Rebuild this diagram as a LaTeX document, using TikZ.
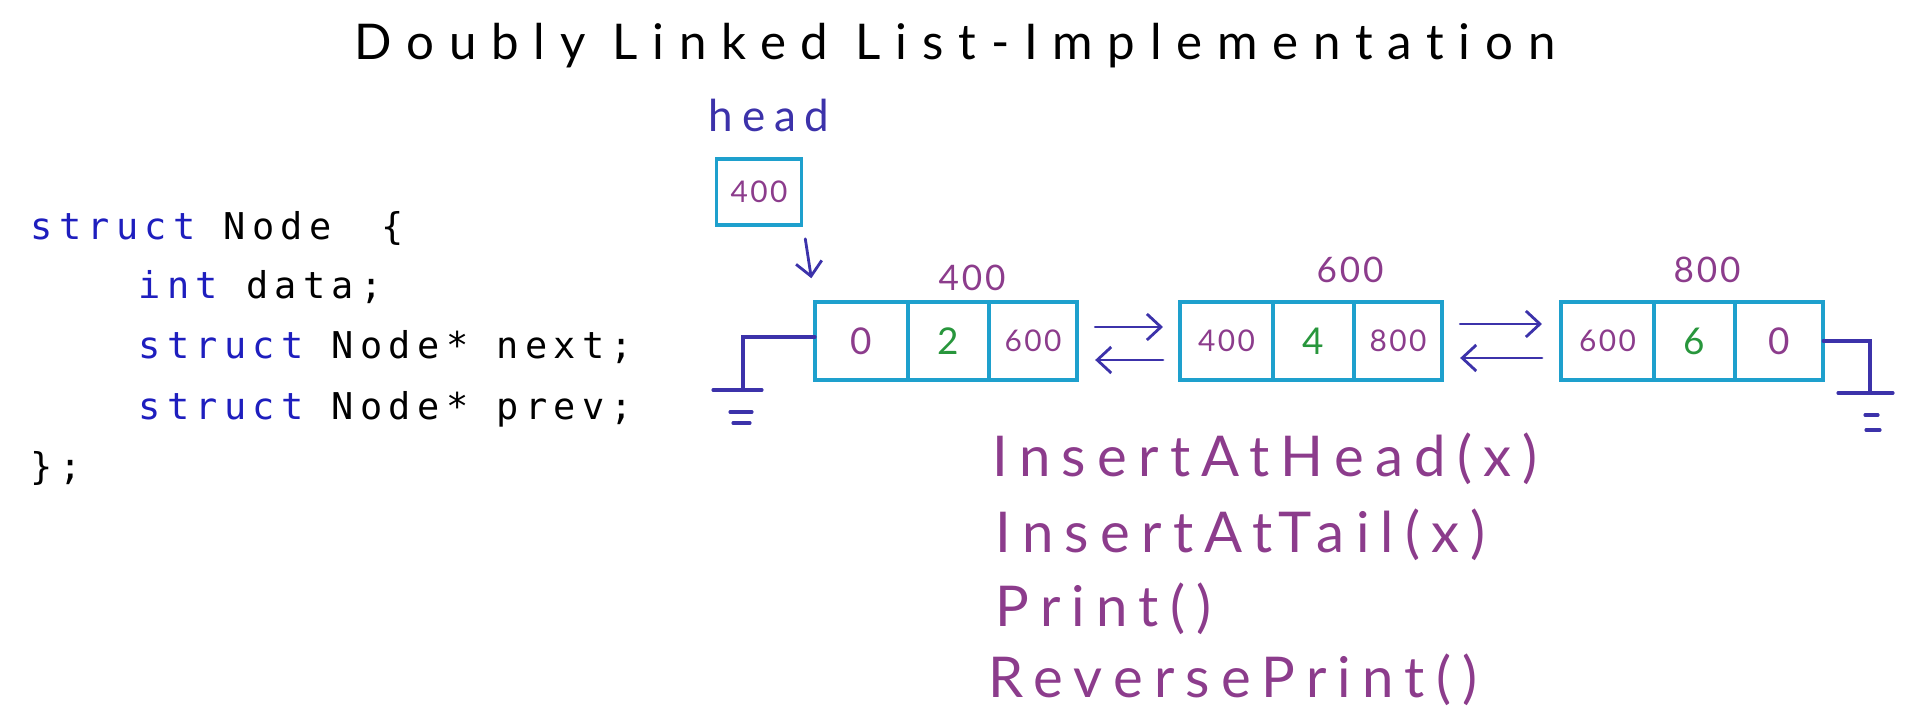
\documentclass[tikz,border=0pt]{standalone}
\usepackage{fontspec}
\usepackage{xcolor}
\usepackage{tikz}
\usetikzlibrary{arrows.meta,positioning,calc}

\newfontfamily\codefont[LetterSpace=17]{DejaVu Sans Mono}
\newfontfamily\handfont[LetterSpace=20,Ligatures=NoCommon]{Lato}
\newfontfamily\titlefont[LetterSpace=30,Ligatures=NoCommon]{Lato}
\newfontfamily\numfont[LetterSpace=8]{Lato}

\definecolor{boxc}{RGB}{30,160,205}
\definecolor{ink}{RGB}{60,50,170}
\definecolor{purp}{RGB}{140,60,140}
\definecolor{grn}{RGB}{40,150,60}
\definecolor{kwblue}{RGB}{30,30,190}
\newcommand{\keyw}[1]{\textcolor{kwblue}{#1}}

\begin{document}
\begin{tikzpicture}[
  x=0.01cm, y=-0.01cm,
  cell/.style={draw=boxc, line width=1.1pt, minimum height=0.78cm,
    inner sep=0pt, outer sep=0pt},
  num/.style={font=\numfont\fontsize{8.5pt}{8.5pt}\selectfont, text=purp},
  digit/.style={font=\numfont\fontsize{10.5pt}{10.5pt}\selectfont},
  addr/.style={font=\numfont\fontsize{10pt}{10pt}\selectfont, text=purp, anchor=base},
  code/.style={font=\codefont\fontsize{10.5pt}{10.5pt}\selectfont, anchor=base west, inner sep=0pt},
  method/.style={font=\handfont\fontsize{16pt}{16pt}\selectfont, text=purp,
    anchor=base west, inner sep=0pt},
  ptr/.style={draw=ink, line width=0.8pt, line cap=round,
    -{Straight Barb[length=0.14cm,width=0.26cm]}},
  wire/.style={draw=ink, line width=0.9pt, line cap=round},
]
\useasboundingbox (0,0) rectangle (1920,728);

% title
\node[font=\titlefont\fontsize{14pt}{14pt}\selectfont, anchor=base] (title) at (955,60)
  {Doubly Linked List-Implementation};

% struct definition
\node[code] (c1) at (30,240) {\keyw{struct} Node\hspace{1.36em}\{};
\node[code] (c2) at (138,299) {\keyw{int} data;};
\node[code] (c3) at (138,359) {\keyw{struct} Node* next;};
\node[code] (c4) at (138,420) {\keyw{struct} Node* prev;};
\node[code] (c5) at (30,480) {\};};

% head pointer
\node[font=\handfont\fontsize{12.5pt}{12.5pt}\selectfont, text=ink, anchor=base] (headlbl) at (769,132) {head};
\node[draw=boxc, line width=1.1pt, minimum width=0.85cm, minimum height=0.66cm,
  inner sep=0pt, num] (headbox) at (759,192) {400};

% list nodes
\node[cell, minimum width=0.93cm, anchor=west, digit, text=purp] (n1a) at (815,341) {0};
\node[cell, minimum width=0.81cm, right=0pt of n1a, digit, text=grn] (n1b) {2};
\node[cell, minimum width=0.88cm, right=0pt of n1b, num] (n1c) {600};

\node[cell, minimum width=0.93cm, anchor=west, num] (n2a) at (1180,341) {400};
\node[cell, minimum width=0.81cm, right=0pt of n2a, digit, text=grn] (n2b) {4};
\node[cell, minimum width=0.88cm, right=0pt of n2b, num] (n2c) {800};

\node[cell, minimum width=0.93cm, anchor=west, num] (n3a) at (1561,341) {600};
\node[cell, minimum width=0.81cm, right=0pt of n3a, digit, text=grn] (n3b) {6};
\node[cell, minimum width=0.88cm, right=0pt of n3b, digit, text=purp] (n3c) {0};

% addresses
\node[addr] (addr1) at (972,291) {400};
\node[addr] (addr2) at (1350,283) {600};
\node[addr] (addr3) at (1707,283) {800};

% links
\draw[ptr, shorten <=0.12cm, shorten >=0.24cm] (headbox.south east) -- (n1a.north west);
\draw[ptr, shorten <=0.18cm, shorten >=0.17cm] ([yshift=0.14cm]n1c.east) -- ([yshift=0.14cm]n2a.west);
\draw[ptr, shorten <=0.17cm, shorten >=0.18cm] ([yshift=-0.19cm]n2a.west) -- ([yshift=-0.19cm]n1c.east);
\draw[ptr, shorten <=0.18cm, shorten >=0.19cm] ([yshift=0.17cm]n2c.east) -- ([yshift=0.17cm]n3a.west);
\draw[ptr, shorten <=0.19cm, shorten >=0.18cm] ([yshift=-0.17cm]n3a.west) -- ([yshift=-0.17cm]n2c.east);

% NULL ends
\coordinate (gndL) at (743,390);
\draw[wire] ([yshift=0.04cm]n1a.west) -| (gndL);
\draw[wire] ($(gndL)+(-30,0)$) -- ($(gndL)+(19,0)$);
\draw[wire] ($(gndL)+(-13,22)$) -- ($(gndL)+(9,22)$);
\draw[wire] ($(gndL)+(-10,33)$) -- ($(gndL)+(7,33)$);

\coordinate (gndR) at (1870,393);
\draw[wire] (n3c.east) -| (gndR);
\draw[wire] ($(gndR)+(-32,0)$) -- ($(gndR)+(23,0)$);
\draw[wire] ($(gndR)+(-5,22)$) -- ($(gndR)+(8,22)$);
\draw[wire] ($(gndR)+(-4,37)$) -- ($(gndR)+(10,37)$);

% operations
\node[method] (m1) at (992,477) {InsertAtHead(x)};
\node[method] (m2) at (995,553) {InsertAtTail(x)};
\node[method] (m3) at (995,627) {Print()};
\node[method] (m4) at (988,698) {ReversePrint()};
\end{tikzpicture}
\end{document}
